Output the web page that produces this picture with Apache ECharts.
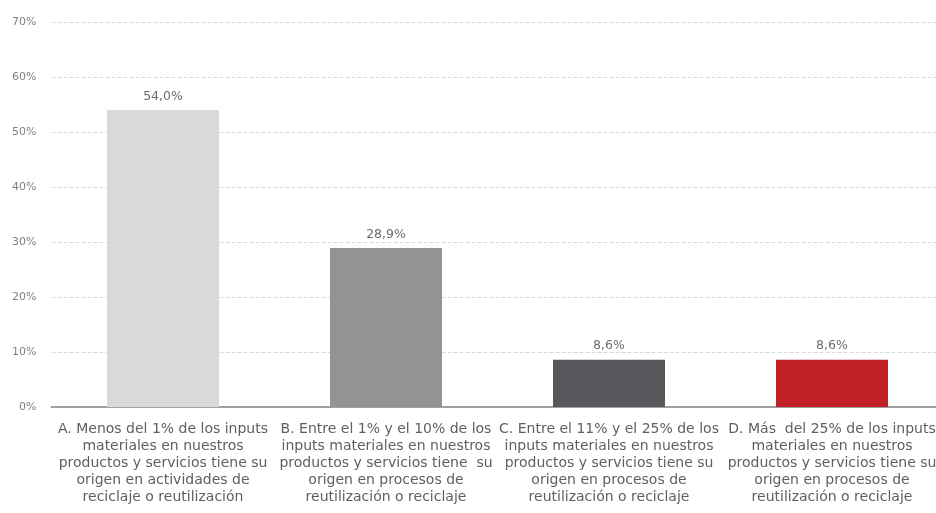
<!DOCTYPE html>
<html>
<head>
<meta charset="utf-8">
<script src="https://cdn.jsdelivr.net/npm/echarts@6/dist/echarts.min.js"></script>
<style>
  html, body { margin: 0; padding: 0; background: #ffffff; overflow: hidden; }
  /* the plot runs a few pixels past the right edge of the window */
  #chart { width: 944px; height: 513px; }
</style>
</head>
<body>
<div id="chart"></div>
<script>
// Share of material inputs that come from recycling / reuse
const categories = [
  'A. Menos del 1% de los inputs\nmateriales en nuestros\nproductos y servicios tiene su\norigen en actividades de\nreciclaje o reutilización',
  'B. Entre el 1% y el 10% de los\ninputs materiales en nuestros\nproductos y servicios tiene  su\norigen en procesos de\nreutilización o reciclaje',
  'C. Entre el 11% y el 25% de los\ninputs materiales en nuestros\nproductos y servicios tiene su\norigen en procesos de\nreutilización o reciclaje',
  'D. Más  del 25% de los inputs\nmateriales en nuestros\nproductos y servicios tiene su\norigen en procesos de\nreutilización o reciclaje'
];
const values = [54.0, 28.9, 8.6, 8.6];
const barColors = ['#d9d9d9', '#939393', '#58575c', '#c01f26'];

const fontFamily = '"DejaVu Sans", Verdana, sans-serif';
const chart = echarts.init(document.getElementById('chart'), null, { renderer: 'canvas' });

chart.setOption({
  animation: false,
  grid: { left: 51.5, right: 0.5, top: 22, bottom: 106, containLabel: false },
  xAxis: {
    type: 'category',
    data: categories,
    axisLine: { show: true, lineStyle: { color: '#a0a0a0', width: 2 } },
    axisTick: { show: false },
    axisLabel: {
      interval: 0,
      color: '#5f5f5f',
      fontFamily: fontFamily,
      fontSize: 14,
      lineHeight: 17,
      margin: 14,
      align: 'center'
    }
  },
  yAxis: {
    type: 'value',
    min: 0,
    max: 70,
    interval: 10,
    axisLine: { show: false },
    axisTick: { show: false },
    splitLine: { show: true, lineStyle: { color: '#d9d9d9', type: [4, 2], width: 1 } },
    axisLabel: {
      color: '#808080',
      fontFamily: fontFamily,
      fontSize: 11,
      margin: 15,
      formatter: v => v + '%'
    }
  },
  series: [{
    type: 'bar',
    barWidth: 112,
    data: values.map((v, i) => ({ value: v, itemStyle: { color: barColors[i] } })),
    label: {
      show: true,
      position: 'top',
      distance: 7,
      color: '#6b6b6b',
      fontFamily: fontFamily,
      fontSize: 12.5,
      formatter: p => p.value.toFixed(1).replace('.', ',') + '%'
    }
  }]
});
</script>
</body>
</html>
